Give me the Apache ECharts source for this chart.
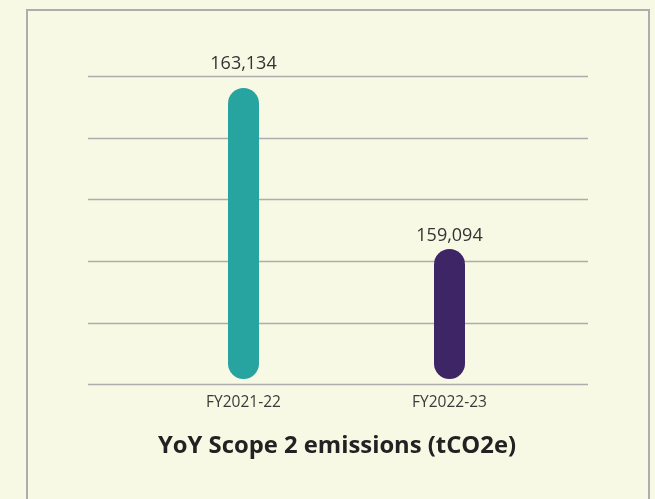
<!DOCTYPE html>
<html>
<head>
<meta charset="utf-8">
<script src="https://cdn.jsdelivr.net/npm/echarts@6/dist/echarts.min.js"></script>
<style>
	html, body { margin: 0; padding: 0; background: #f8f9e5; }
	#chart { width: 655px; height: 499px; }
</style>
</head>
<body>
<div id="chart"></div>
<script>
	var categories = ['FY2021-22', 'FY2022-23'];
	var emissions = [163134, 159094];
	var barColors = ['#27a3a0', '#3e2565'];
	var titleText = 'YoY Scope 2 emissions (tCO2e)';

	// label offsets above each bar
	var labelGaps = [15, 4];

	var chart = echarts.init(document.getElementById('chart'));

	var barData = [];
	for(var i=0; i<emissions.length; i++){
		barData.push({
			value: emissions[i],
			itemStyle: { color: barColors[i] },
			label: { distance: labelGaps[i] }
		});
	}

	var option = {
		backgroundColor: '#f8f9e5',
		animation: false,
		title: {
			text: titleText,
			left: 153,
			top: 429,
			textStyle: {
				fontFamily: 'Open Sans',
				fontSize: 23.8,
				fontWeight: 'bold',
				color: '#222'
			}
		},
		graphic: [{
			type: 'rect',
			shape: { x: 27, y: 10, width: 622, height: 600 },
			style: { fill: 'none', stroke: '#adadad', lineWidth: 2 },
			silent: true
		}],
		grid: [
			// gridlines
			{ left: 88, right: 67, top: 76.5, bottom: 114.5 },
			// bars
			{ left: 140.5, right: 102.5, top: 88, bottom: 120 }
		],
		xAxis: [
			{ type: 'category', gridIndex: 0, data: categories, show: false },
			{
				type: 'category',
				gridIndex: 1,
				data: categories,
				axisLine: { show: false },
				axisTick: { show: false },
				axisLabel: {
					margin: 16,
					fontFamily: 'Open Sans',
					fontSize: 15.5,
					color: '#3a3a3a'
				}
			}
		],
		yAxis: [
			{
				type: 'value',
				gridIndex: 0,
				min: 0,
				max: 5,
				interval: 1,
				axisLine: { show: false },
				axisTick: { show: false },
				axisLabel: { show: false },
				splitLine: { lineStyle: { color: '#adadad', width: 1.3 } }
			},
			{
				type: 'value',
				gridIndex: 1,
				min: 155834,
				max: 163134,
				show: false,
				splitLine: { show: false }
			}
		],
		series: [{
			type: 'bar',
			xAxisIndex: 1,
			yAxisIndex: 1,
			barWidth: 31,
			data: barData,
			itemStyle: { borderRadius: 15.5 },
			label: {
				show: true,
				position: 'top',
				fontFamily: 'Open Sans',
				fontSize: 18,
				color: '#333',
				formatter: function(p){
					return p.value.toLocaleString('en-US');
				}
			}
		}]
	};

	chart.setOption(option);
</script>
</body>
</html>
